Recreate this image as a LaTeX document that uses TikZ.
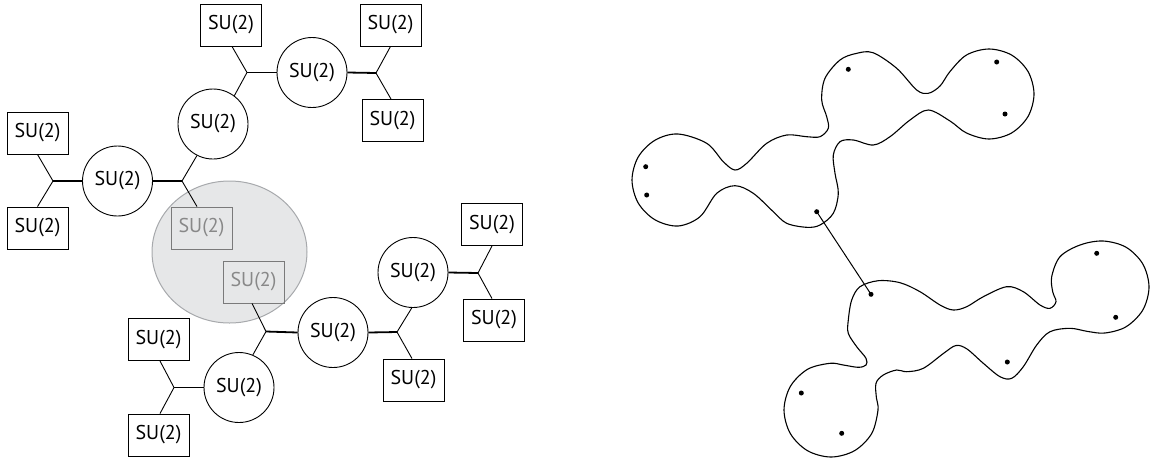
\documentclass[tikz,border=0pt]{standalone}
\usepackage{fontspec}
\setmainfont{PT Sans}
\usetikzlibrary{shapes.geometric}
\definecolor{hlfill}{HTML}{E6E7E8}
\definecolor{hldraw}{HTML}{A7A9AC}
\definecolor{gtext}{HTML}{888888}
\begin{document}
\begin{tikzpicture}[x=1pt,y=-1pt,
  lbl/.style={font=\fontsize{20}{24}\selectfont},
  box/.style={lbl, draw, line width=0.9pt, minimum width=61pt, minimum height=42pt, inner sep=0pt},
  gbox/.style={box, draw=gtext!90!black, text=gtext},
  grp/.style={lbl, circle, draw, line width=0.9pt, minimum size=70pt, inner sep=0pt},
  hbond/.style={line width=1.8pt},
  dbond/.style={line width=0.9pt},
  dot/.style={circle, fill, inner sep=0pt, minimum size=5pt},
  blob/.style={line width=1.1pt, smooth cycle, tension=0.55},
  hl/.style={ellipse, fill=hlfill, draw=hldraw, line width=1pt, minimum width=155pt, minimum height=142pt, inner sep=0pt}
]
\useasboundingbox (0,0) rectangle (1150,459);

% highlighted region
\node[hl] (hl) at (229.5,252) {};

% boxes
\node[box] (A) at (231,25) {SU(2)};
\node[box] (B) at (390.5,25) {SU(2)};
\node[box] (C) at (392.5,120.5) {SU(2)};
\node[box] (H) at (37.5,133) {SU(2)};
\node[box] (I) at (37.5,228) {SU(2)};
\node[gbox] (G) at (201.5,228) {SU(2)};
\node[gbox] (K) at (253.5,282) {SU(2)};
\node[box] (P) at (492,224.5) {SU(2)};
\node[box] (Q) at (494,320) {SU(2)};
\node[box] (O) at (413.5,380) {SU(2)};
\node[box] (R) at (158.5,339.5) {SU(2)};
\node[box] (S) at (158.5,435) {SU(2)};

% circles
\node[grp] (D) at (312,72.5) {SU(2)};
\node[grp] (E) at (213,124) {SU(2)};
\node[grp] (F) at (117.5,181) {SU(2)};
\node[grp] (L) at (333,332.5) {SU(2)};
\node[grp] (N) at (413,272.5) {SU(2)};
\node[grp] (M) at (239,387.5) {SU(2)};

% junctions
\coordinate (J1) at (247,72.5);
\coordinate (J2) at (376,73);
\coordinate (J3) at (182,181);
\coordinate (J4) at (53,181);
\coordinate (J5) at (266,331.5);
\coordinate (J6) at (397,332);
\coordinate (J7) at (478,273);
\coordinate (J8) at (174,387.5);

% connectors
\draw[hbond] (J1) -- (D.west);
\draw[dbond] (J1) -- ([xshift=1pt]A.south);
\draw[dbond] (J1) -- (E.53);

\draw[hbond] (D.east) -- (J2);
\draw[dbond] (J2) -- (B.south);
\draw[dbond] (J2) -- ([xshift=-1.5pt]C.north);

\draw[hbond] (F.east) -- (J3);
\draw[dbond] (J3) -- (E.243);
\draw[dbond] (J3) -- ([xshift=-4.5pt]G.north);

\draw[hbond] (J4) -- (F.west);
\draw[dbond] (J4) -- (H.south);
\draw[dbond] (J4) -- (I.north);

\draw[hbond] (J5) -- (L.west);
\draw[dbond] (J5) -- ([xshift=-1.5pt]K.south);
\draw[dbond] (J5) -- (M.67);

\draw[hbond] (L.east) -- (J6);
\draw[dbond] (J6) -- (N.268);
\draw[dbond] (J6) -- ([xshift=-1.5pt]O.north);

\draw[hbond] (N.east) -- (J7);
\draw[dbond] (J7) -- (P.south);
\draw[dbond] (J7) -- ([xshift=-2pt]Q.north);

\draw[hbond] (J8) -- (M.west);
\draw[dbond] (J8) -- ([xshift=1.5pt]R.south);
\draw[dbond] (J8) -- ([xshift=1.5pt]S.north);

% right: upper blob
\draw[blob] plot coordinates {
 (632,180) (638.2,157) (655,140.2) (678,134) (706.7,143.3) (723.3,161.7)
 (735,170) (746.7,163.3) (766.7,143.3) (786.7,135) (806.7,136.7) (820,136.7)
 (828.3,128.3) (826.7,116.7) (821.7,100) (825,78.3) (840,60) (856,53.5)
 (873,52.7) (896.7,68.3) (916.7,90) (928.3,93.3) (940,86)
 (950,71.5) (966.5,55) (989,49) (1011.5,55) (1028,71.5) (1034,94)
 (1028,116.5) (1011.5,133) (989,139) (966.5,133)
 (950,121) (928.3,110) (910,120) (890,136.7)
 (873.3,145) (853.3,140) (840,141.7) (833.3,155) (835,173.3) (838.3,193.3)
 (833.3,213.3) (820,225) (806.7,227.3) (786.7,223.3) (773.3,211.7) (753.3,193.3)
 (735,185.7) (716.7,193.3) (700,216.7) (678,226) (655,219.8) (638.2,203)
};

% right: lower blob
\draw[blob] plot coordinates {
 (851.7,300) (860,286.7) (878.3,280.7) (900,282.7) (920,291.7) (940,305)
 (953.3,310) (966.7,306.7) (983.3,296.7) (1006.7,286.7) (1023.3,291.7) (1040,305)
 (1050,308.3) (1056,301.7) (1052.7,291.7) (1051.7,276.7) (1060,256.7) (1080,245)
 (1103,241) (1126,247.2) (1142.8,264) (1149,287) (1142.8,310) (1126,326.8)
 (1105,333) (1088,331.5) (1070,328.3) (1050,331.7) (1036.7,345) (1023.3,366.7)
 (1011.7,378.3) (1000,376.7) (983.3,363.3) (967,349) (956,345.5) (944,353)
 (923.3,368.3) (906.7,371.7) (896.7,370) (883.3,375) (876,383.3) (876.4,397.8)
 (878,410) (871.7,433.5) (854.5,450.7) (831,457) (807.5,450.7) (790.3,433.5)
 (784,410) (790.3,386.5) (807.5,369.3) (830,363.3) (843.3,365) (858.3,367.3)
 (866,365) (866,358.3) (856.7,346.7) (848.3,333.3) (848.3,320)
};

% dots
\node[dot] (u1) at (645.7,166.7) {};
\node[dot] (u2) at (646.7,195) {};
\node[dot] (u3) at (848.3,69.3) {};
\node[dot] (u4) at (996.7,62) {};
\node[dot] (u5) at (1005,114) {};
\node[dot] (u6) at (816.7,211.7) {};
\node[dot] (l1) at (871,294.3) {};
\node[dot] (l2) at (1096.7,253.3) {};
\node[dot] (l3) at (1115.7,317.3) {};
\node[dot] (l4) at (1007.3,362) {};
\node[dot] (l5) at (801.3,393) {};
\node[dot] (l6) at (841.7,433.3) {};

\draw[line width=1pt] (u6.center) -- (l1.center);
\end{tikzpicture}
\end{document}
